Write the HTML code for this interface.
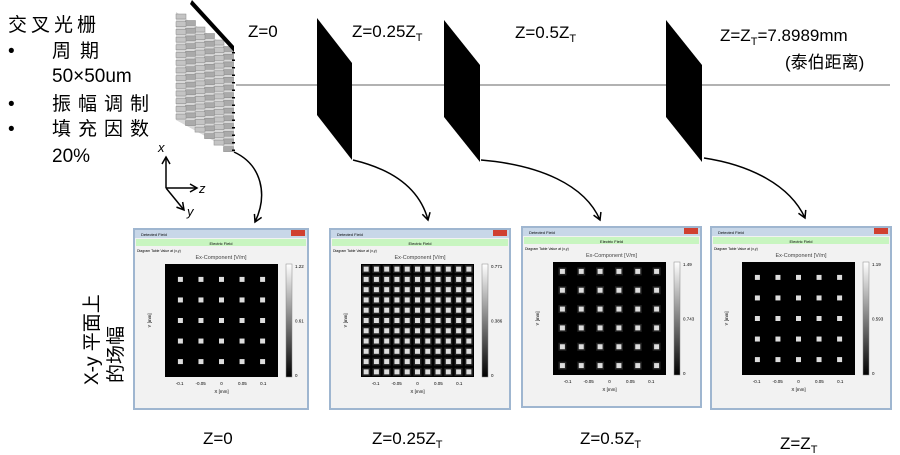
<!DOCTYPE html>
<html><head><meta charset="utf-8"><style>
body{margin:0;background:#fff;width:900px;height:455px;overflow:hidden;font-family:"Liberation Sans","Noto Sans CJK SC",sans-serif}
svg{position:absolute;left:0;top:0}
</style></head><body>
<svg id="s" width="900" height="455" viewBox="0 0 900 455" font-family="Liberation Sans, Noto Sans CJK SC, sans-serif">
<defs>
<marker id="ah" markerWidth="10" markerHeight="10" refX="8" refY="5" orient="auto" markerUnits="userSpaceOnUse"><path d="M1,1 L8,5 L1,9" fill="none" stroke="#000" stroke-width="1.5"/></marker>
</defs>
<line x1="236" y1="85" x2="890" y2="85" stroke="#999" stroke-width="1.5"/>
<g id="grating"></g>
<polygon points="317,18 352,63 352,160 317,115" fill="#000"/>
<polygon points="444,20 480,65 480,162 444,117" fill="#000"/>
<polygon points="666,20 702,65 702,162 666,117" fill="#000"/>
<text font-size="17" x="248" y="37">Z=0</text>
<text font-size="17" x="352" y="37">Z=0.25Z<tspan font-size="11" dy="4">T</tspan></text>
<text font-size="17" x="515" y="38">Z=0.5Z<tspan font-size="11" dy="4">T</tspan></text>
<text font-size="17" x="720" y="41">Z=Z<tspan font-size="11" dy="4">T</tspan><tspan dy="-4">=7.8989mm</tspan></text>
<text font-size="17" x="785" y="68">(泰伯距离)</text>
<g font-size="19" fill="#000">
<text x="8" y="31" letter-spacing="4">交叉光栅</text>
<text x="8" y="57">•</text><text x="52" y="57" letter-spacing="9">周期</text>
<text x="52" y="82">50×50um</text>
<text x="8" y="110">•</text><text x="52" y="110" letter-spacing="7">振幅调制</text>
<text x="8" y="135">•</text><text x="52" y="135" letter-spacing="7">填充因数</text>
<text x="52" y="162">20%</text>
</g>
<g stroke="#000" stroke-width="1.5" fill="none">
<line x1="166" y1="188" x2="166" y2="157" marker-end="url(#ah)"/>
<line x1="166" y1="188" x2="197" y2="188" marker-end="url(#ah)"/>
<line x1="166" y1="188" x2="184" y2="210" marker-end="url(#ah)"/>
<path d="M234,152 C262,165 268,195 255,222" marker-end="url(#ah)"/>
<path d="M353,160 C395,170 420,190 428,220" marker-end="url(#ah)"/>
<path d="M481,160 C540,165 585,185 600,220" marker-end="url(#ah)"/>
<path d="M704,158 C750,165 790,185 805,218" marker-end="url(#ah)"/>
</g>
<g font-size="13" font-style="italic"><text x="158" y="152">x</text><text x="199" y="193">z</text><text x="187" y="216">y</text></g>
<g transform="translate(98,385) rotate(-90)" font-size="19"><text x="0" y="0">X-y 平面上</text></g>
<g transform="translate(122,383) rotate(-90)" font-size="19"><text x="0" y="0">的场幅</text></g>
<g id="wins"></g>
<g font-size="17">
<text x="203" y="444">Z=0</text>
<text x="372" y="444">Z=0.25Z<tspan font-size="11" dy="4">T</tspan></text>
<text x="580" y="444">Z=0.5Z<tspan font-size="11" dy="4">T</tspan></text>
<text x="780" y="449">Z=Z<tspan font-size="11" dy="4">T</tspan></text>
</g>
</svg>
<script>
var g='';
g+='<polygon points="176,12 234,52 234,152 176,120" fill="#d8d8d8"/>';
for(var r=0;r<14;r++){for(var c=0;c<6;c++){var x=176+c*9.5,y=14+r*7.7+c*6.5;g+='<rect x="'+x+'" y="'+y+'" width="10" height="5" fill="'+(c%2?'#aaa':'#c4c4c4')+'" stroke="#888" stroke-width="0.5"/>';}}
g+='<polygon points="192,0 234,46 234,52 190,4" fill="#000"/>';
for(var r=0;r<14;r++){g+='<rect x="232" y="'+(52+r*7.5)+'" width="3" height="1.5" fill="#000"/>';}
document.getElementById('grating').innerHTML=g;
function win(x,y,w,h,n,off,mx,halo){
 var s='<rect x="'+x+'" y="'+y+'" width="'+w+'" height="'+h+'" fill="#9fb6d0"/>';
 s+='<rect x="'+(x+2)+'" y="'+(y+2)+'" width="'+(w-4)+'" height="'+(h-4)+'" fill="#f2f2f2"/>';
 s+='<rect x="'+(x+2)+'" y="'+(y+2)+'" width="'+(w-4)+'" height="8" fill="#c8d7e8"/>';
 s+='<rect x="'+(x+w-18)+'" y="'+(y+2)+'" width="14" height="6" fill="#d04030"/>';
 s+='<rect x="'+(x+3)+'" y="'+(y+11)+'" width="'+(w-6)+'" height="7" fill="#c8f5c0"/>';
 s+='<text x="'+(x+w/2)+'" y="'+(y+17)+'" font-size="4" text-anchor="middle">Electric Field</text>';
 s+='<text x="'+(x+8)+'" y="'+(y+8)+'" font-size="4">Detected Field</text>';
 s+='<text x="'+(x+4)+'" y="'+(y+24)+'" font-size="3.5">Diagram  Table   Value at (x,y)</text>';
 var px=x+32,py=y+36,ps=113;
 s+='<text x="'+(x+w/2)+'" y="'+(y+31)+'" font-size="5.5" fill="#444" text-anchor="middle">Ex-Component  [V/m]</text>';
 s+='<rect x="'+px+'" y="'+py+'" width="'+ps+'" height="'+ps+'" fill="#000"/>';
 var sp=ps/(n+(off?0:0.4)),st=off?sp/2:(ps-(n-1)*(ps/(n+0.5)))/2;
 if(!off){sp=(ps-2*st)/(n-1);}
 for(var i=0;i<n;i++)for(var j=0;j<n;j++){var cx=px+st+i*sp,cy=py+st+j*sp;
  if(halo)s+='<rect x="'+(cx-4)+'" y="'+(cy-4)+'" width="8" height="8" fill="#222"/>';
  s+='<rect x="'+(cx-2.5)+'" y="'+(cy-2.5)+'" width="5" height="5" fill="#ddd"/>';}
 s+='<defs><linearGradient id="g'+x+'" x1="0" y1="0" x2="0" y2="1"><stop offset="0" stop-color="#fff"/><stop offset="1" stop-color="#000"/></linearGradient></defs>';
 s+='<rect x="'+(px+ps+8)+'" y="'+py+'" width="6" height="'+ps+'" fill="url(#g'+x+')" stroke="#888" stroke-width="0.5"/>';
 s+='<text x="'+(px+ps+17)+'" y="'+(py+4)+'" font-size="4.5">'+mx[0]+'</text>';
 s+='<text x="'+(px+ps+17)+'" y="'+(py+ps/2+2)+'" font-size="4.5">'+mx[1]+'</text>';
 s+='<text x="'+(px+ps+17)+'" y="'+(py+ps)+'" font-size="4.5">0</text>';
 var lab=['-0.1','-0.05','0','0.05','0.1'];
 for(var k=0;k<5;k++){s+='<text x="'+(px+ps*(0.13+k*0.185))+'" y="'+(py+ps+8)+'" font-size="4.5" text-anchor="middle">'+lab[k]+'</text>';}
 s+='<text x="'+(px+ps/2)+'" y="'+(py+ps+16)+'" font-size="4.5" text-anchor="middle">X [mm]</text>';
 s+='<text transform="translate('+(px-14)+','+(py+ps/2)+') rotate(-90)" font-size="4.5" text-anchor="middle">Y [mm]</text>';
 return s;
}
var W='';
W+=win(133,228,176,182,5,false,['1.22','0.61'],false);
W+=win(329,228,182,182,11,true,['0.771','0.386'],true);
W+=win(521,226,181,182,6,true,['1.49','0.743'],true);
W+=win(710,226,182,184,5,false,['1.19','0.593'],false);
document.getElementById('wins').innerHTML=W;
</script>
</body></html>
